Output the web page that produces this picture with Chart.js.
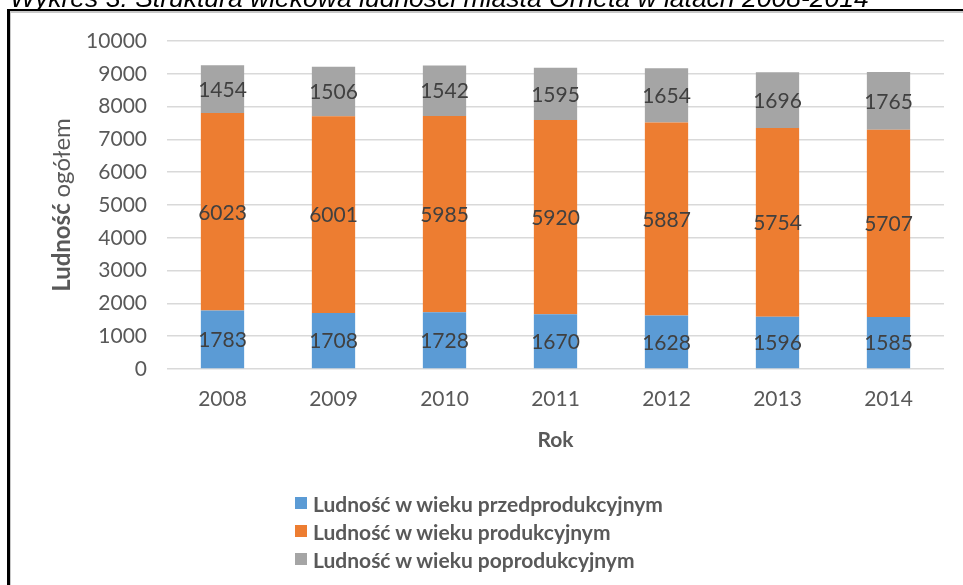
<!DOCTYPE html>
<html><head><meta charset="utf-8">
<script src="https://cdn.jsdelivr.net/npm/chart.js@4"></script>
<style>
html,body{margin:0;padding:0;background:#fff;overflow:hidden;}
#wrap{position:relative;width:963px;height:585px;overflow:hidden;background:#fff;}
#title{position:absolute;left:10px;top:-15px;font:italic 26.5px "Liberation Sans",Arial,sans-serif;line-height:26px;white-space:nowrap;color:#000;z-index:1;}
#frame{position:absolute;left:7px;top:9px;width:990px;height:620px;border-left:3px solid #000;border-top:2px solid #000;box-shadow:inset 1px 2px 0 #c8c8c8;z-index:2;}
canvas{position:absolute;left:0;top:0;}
#legend{position:absolute;left:295px;top:489px;font:bold 21px Lato,sans-serif;color:#595959;z-index:3;}
.row{height:28px;display:flex;align-items:center;white-space:nowrap;}
.box{width:12px;height:12px;margin-right:6px;flex:none;}
</style>
</head><body>
<div id="wrap">
  <div id="title">Wykres 3. Struktura wiekowa ludności miasta Orneta w latach 2008-2014</div>
  <div id="frame"></div>
  <canvas id="c" width="963" height="585"></canvas>
  <div id="legend"></div>
</div>
<script>
const years = ['2008','2009','2010','2011','2012','2013','2014'];
const przedprodukcyjny = [1783,1708,1728,1670,1628,1596,1585];
const produkcyjny = [6023,6001,5985,5920,5887,5754,5707];
const poprodukcyjny = [1454,1506,1542,1595,1654,1696,1765];
const seriesLabels = ['Ludność w wieku przedprodukcyjnym','Ludność w wieku produkcyjnym','Ludność w wieku poprodukcyjnym'];
const seriesColors = ['#5B9BD5','#ED7D31','#A5A5A5'];
const yAxisTitle = ['Ludność', 'ogółem'];
const xAxisTitle = 'Rok';

const valueLabels = {
  id: 'valueLabels',
  afterDatasetsDraw(chart) {
    const ctx = chart.ctx;
    ctx.save();
    ctx.font = '21px Lato';
    ctx.fillStyle = '#404040';
    ctx.textAlign = 'center';
    ctx.textBaseline = 'middle';
    chart.data.datasets.forEach((ds, i) => {
      const meta = chart.getDatasetMeta(i);
      meta.data.forEach((el, j) => {
        const p = el.getProps(['x','y','base'], true);
        ctx.fillText(String(ds.data[j]), p.x, (p.y + p.base) / 2 + 1);
      });
    });
    ctx.restore();
  }
};

const yTitle = {
  id: 'yTitle',
  afterDraw(chart) {
    const ctx = chart.ctx;
    const a = chart.chartArea;
    ctx.save();
    ctx.translate(62, (a.top + a.bottom) / 2);
    ctx.rotate(-Math.PI / 2);
    ctx.fillStyle = '#595959';
    ctx.textBaseline = 'middle';
    ctx.textAlign = 'left';
    const boldFont = 'bold 24px Lato', normFont = '24px Lato';
    ctx.font = boldFont;
    const w1 = ctx.measureText(yAxisTitle[0] + ' ').width;
    ctx.font = normFont;
    const w2 = ctx.measureText(yAxisTitle[1]).width;
    const start = -(w1 + w2) / 2;
    ctx.font = boldFont;
    ctx.fillText(yAxisTitle[0] + ' ', start, 0);
    ctx.font = normFont;
    ctx.fillText(yAxisTitle[1], start + w1, 0);
    ctx.restore();
  }
};

const seriesData = [przedprodukcyjny, produkcyjny, poprodukcyjny];
const datasets = seriesData.map((d, i) => ({
  label: seriesLabels[i],
  data: d,
  backgroundColor: seriesColors[i],
  borderWidth: 0,
  barPercentage: 0.39,
  categoryPercentage: 1
}));

new Chart(document.getElementById('c'), {
  type: 'bar',
  data: { labels: years, datasets },
  plugins: [valueLabels, yTitle],
  options: {
    responsive: false,
    animation: false,
    layout: { padding: { top: 41, right: 19, bottom: 132.4, left: 0 } },
    plugins: { legend: { display: false }, tooltip: { enabled: false } },
    scales: {
      x: {
        stacked: true,
        grid: { display: false, drawTicks: false },
        border: { display: false },
        ticks: { font: { family: 'Lato', size: 21 }, color: '#595959', padding: 18 },
        title: { display: true, text: xAxisTitle, font: { family: 'Lato', size: 21, weight: 'bold' }, color: '#595959', padding: 0 },
        afterFit(s) { s.height = 83.6; }
      },
      y: {
        stacked: true,
        min: 0, max: 10000,
        grid: { color: '#d9d9d9', drawTicks: false, lineWidth: 1.5 },
        border: { display: false },
        ticks: { stepSize: 1000, font: { family: 'Lato', size: 21 }, color: '#595959', padding: 20,
                 callback: v => String(v) },
        afterFit(s) { s.width = 167; }
      }
    }
  }
});

const leg = document.getElementById('legend');
seriesLabels.forEach((l, i) => {
  const r = document.createElement('div'); r.className = 'row';
  const b = document.createElement('span'); b.className = 'box'; b.style.background = seriesColors[i];
  const t = document.createElement('span'); t.textContent = l;
  r.appendChild(b); r.appendChild(t); leg.appendChild(r);
});
</script>
</body></html>
